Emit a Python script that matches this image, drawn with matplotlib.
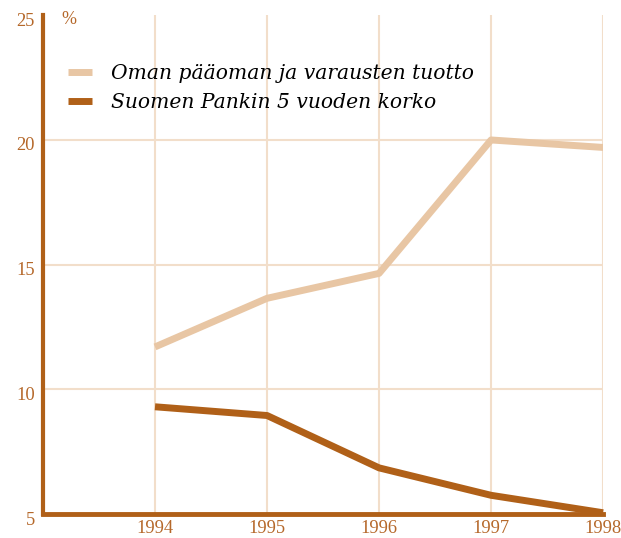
import matplotlib.pyplot as plt
import matplotlib.transforms as mtransforms

years = [1994, 1995, 1996, 1997, 1998]
equity_return = [11.7, 13.65, 14.65, 20.0, 19.7]
bank_rate = [9.3, 8.95, 6.85, 5.75, 5.05]
labels = ["Oman pääoman ja varausten tuotto", "Suomen Pankin 5 vuoden korko"]

dark = "#B06018"
light = "#E8C6A4"
grid_col = "#F2DECA"
text_col = "#B5682A"

fig = plt.figure(figsize=(6.21, 5.38), dpi=100)
ax = fig.add_axes([0.0692, 0.0446, 0.902, 0.927])

ax.plot(years, equity_return, color=light, linewidth=5, solid_capstyle="butt", label=labels[0], zorder=3)
ax.plot(years, bank_rate, color=dark, linewidth=5, solid_capstyle="butt", label=labels[1], zorder=3, clip_on=False)

ax.set_xlim(1993, 1998)
ax.set_ylim(5, 25)
ax.set_xticks(years)
ax.set_yticks([5, 10, 15, 20, 25])
ax.grid(True, color=grid_col, linewidth=1.5, zorder=0)
ax.set_axisbelow(True)
ax.yaxis.get_gridlines()[-1].set_visible(False)

for side in ["top", "right"]:
    ax.spines[side].set_visible(False)
ax.spines["left"].set_color(dark)
ax.spines["left"].set_linewidth(3)
ax.spines["bottom"].set_color(dark)
ax.spines["bottom"].set_linewidth(3.5)

ax.tick_params(length=0, colors=text_col, labelsize=13.3)
ax.tick_params(axis="y", pad=6)
ax.tick_params(axis="x", pad=4)
shift = mtransforms.ScaledTranslation(0, -4 / 100, fig.dpi_scale_trans)
for t in ax.get_xticklabels() + ax.get_yticklabels():
    t.set_fontfamily("Liberation Serif")
for t in ax.get_yticklabels():
    t.set_transform(t.get_transform() + shift)

ax.text(1993.16, 25, "%", color=text_col, fontsize=13, family="Liberation Serif",
        va="center", ha="left", transform=ax.transData + shift)

leg = ax.legend(loc="upper left", bbox_to_anchor=(0.012, 0.939), frameon=False,
                handlelength=1.2, handletextpad=0.9, labelspacing=0.5,
                prop={"family": "DejaVu Serif", "style": "italic", "size": 14.6})
for line in leg.get_lines():
    line.set_linewidth(5)
    line.set_solid_capstyle("butt")

fig.savefig("out.png", dpi=100)
